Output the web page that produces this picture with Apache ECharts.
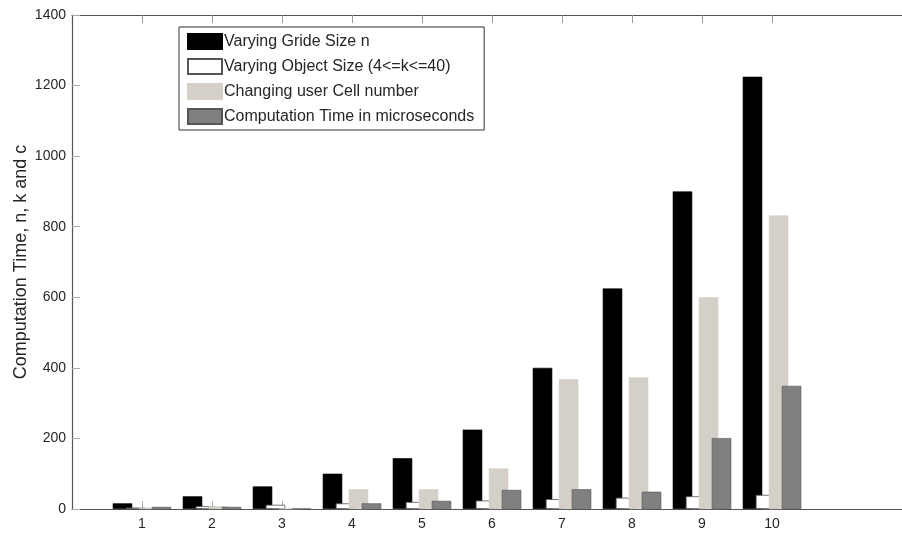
<!DOCTYPE html>
<html>
<head>
<meta charset="utf-8">
<script src="https://cdn.jsdelivr.net/npm/echarts@6/dist/echarts.min.js"></script>
<style>
html,body{margin:0;padding:0;background:#fff;}
#chart{width:902px;height:534px;}
</style>
</head>
<body>
<div id="chart"></div>
<script>
// Categories (x positions 1..10; axis runs 0..12)
const categories = ['1','2','3','4','5','6','7','8','9','10'];
const axisCategories = ['0','1','2','3','4','5','6','7','8','9','10','11','12'];
const seriesNames = ['Varying Gride Size n','Varying Object Size (4<=k<=40)','Changing user Cell number','Computation Time in microseconds'];
const gridSize = [16, 36, 64, 100, 144, 225, 400, 625, 900, 1225];
const objectSize = [4, 8, 12, 16, 20, 24, 28, 32, 36, 40];
const cellNumber = [4, 8, 1, 56, 56, 115, 368, 373, 600, 832];
const compTime = [6, 6, 1, 16, 23, 54, 56, 49, 201, 349];
const yTicks = [0, 200, 400, 600, 800, 1000, 1200, 1400];

function pad(arr){
  const out = axisCategories.map(() => null);
  categories.forEach((c, i) => { out[axisCategories.indexOf(c)] = arr[i]; });
  return out;
}
const tickShown = (idx) => idx >= 1 && idx <= 10;
const font = 'Liberation Sans, Arial, sans-serif';
const txt = '#262626';

const colors = ['#000000', '#ffffff', '#d4d0c8', '#808080'];
const borders = ['#000000', '#555555', '#d4d0c8', '#555555'];
const values = [gridSize, objectSize, cellNumber, compTime];

const chart = echarts.init(document.getElementById('chart'));
chart.setOption({
  animation: false,
  backgroundColor: '#ffffff',
  grid: { left: 72, top: 15, width: 840, height: 494, containLabel: false, outerBoundsMode: 'none' },
  legend: {
    orient: 'vertical',
    left: 179, top: 27,
    padding: [6, 10, 5, 8],
    itemWidth: 34, itemHeight: 15, itemGap: 8,
    icon: 'rect',
    borderColor: '#333', borderWidth: 1,
    backgroundColor: '#fff',
    textStyle: { fontFamily: font, fontSize: 16, color: txt, padding: [0,0,0,-3] },
    data: seriesNames
  },
  xAxis: [{
    type: 'category',
    data: axisCategories,
    boundaryGap: false,
    axisLine: { lineStyle: { color: '#555', width: 1.2 } },
    axisTick: { show: true, inside: true, length: 8, interval: tickShown, lineStyle: { color: '#aaa' } },
    axisLabel: { interval: tickShown, margin: 8, fontFamily: font, fontSize: 14, color: txt },
    splitLine: { show: false }
  }, {
    type: 'category',
    position: 'top',
    data: axisCategories,
    boundaryGap: false,
    axisLine: { lineStyle: { color: '#555', width: 1.2 } },
    axisTick: { show: true, inside: true, length: 8, interval: tickShown, lineStyle: { color: '#999' } },
    axisLabel: { show: false },
    splitLine: { show: false }
  }],
  yAxis: {
    type: 'value',
    min: yTicks[0], max: yTicks[yTicks.length-1], interval: 200,
    name: 'Computation Time, n, k and c',
    nameLocation: 'middle', nameGap: 42, nameMoveOverlap: false,
    nameTextStyle: { fontFamily: font, fontSize: 18, color: txt },
    axisLine: { show: true, lineStyle: { color: '#555', width: 1.2 } },
    axisTick: { show: true, inside: true, length: 8, lineStyle: { color: '#aaa' } },
    axisLabel: { margin: 6, fontFamily: font, fontSize: 14, color: txt, formatter: (v) => String(v) },
    splitLine: { show: false }
  },
  series: seriesNames.map((name, i) => ({
    name: name,
    type: 'bar',
    xAxisIndex: 0,
    barWidth: 19.5,
    barGap: '-33.3%',
    data: pad(values[i]),
    itemStyle: {
      color: colors[i],
      borderColor: borders[i],
      borderWidth: i === 1 ? 0.8 : 0.6
    }
  }))
});
</script>
</body>
</html>
